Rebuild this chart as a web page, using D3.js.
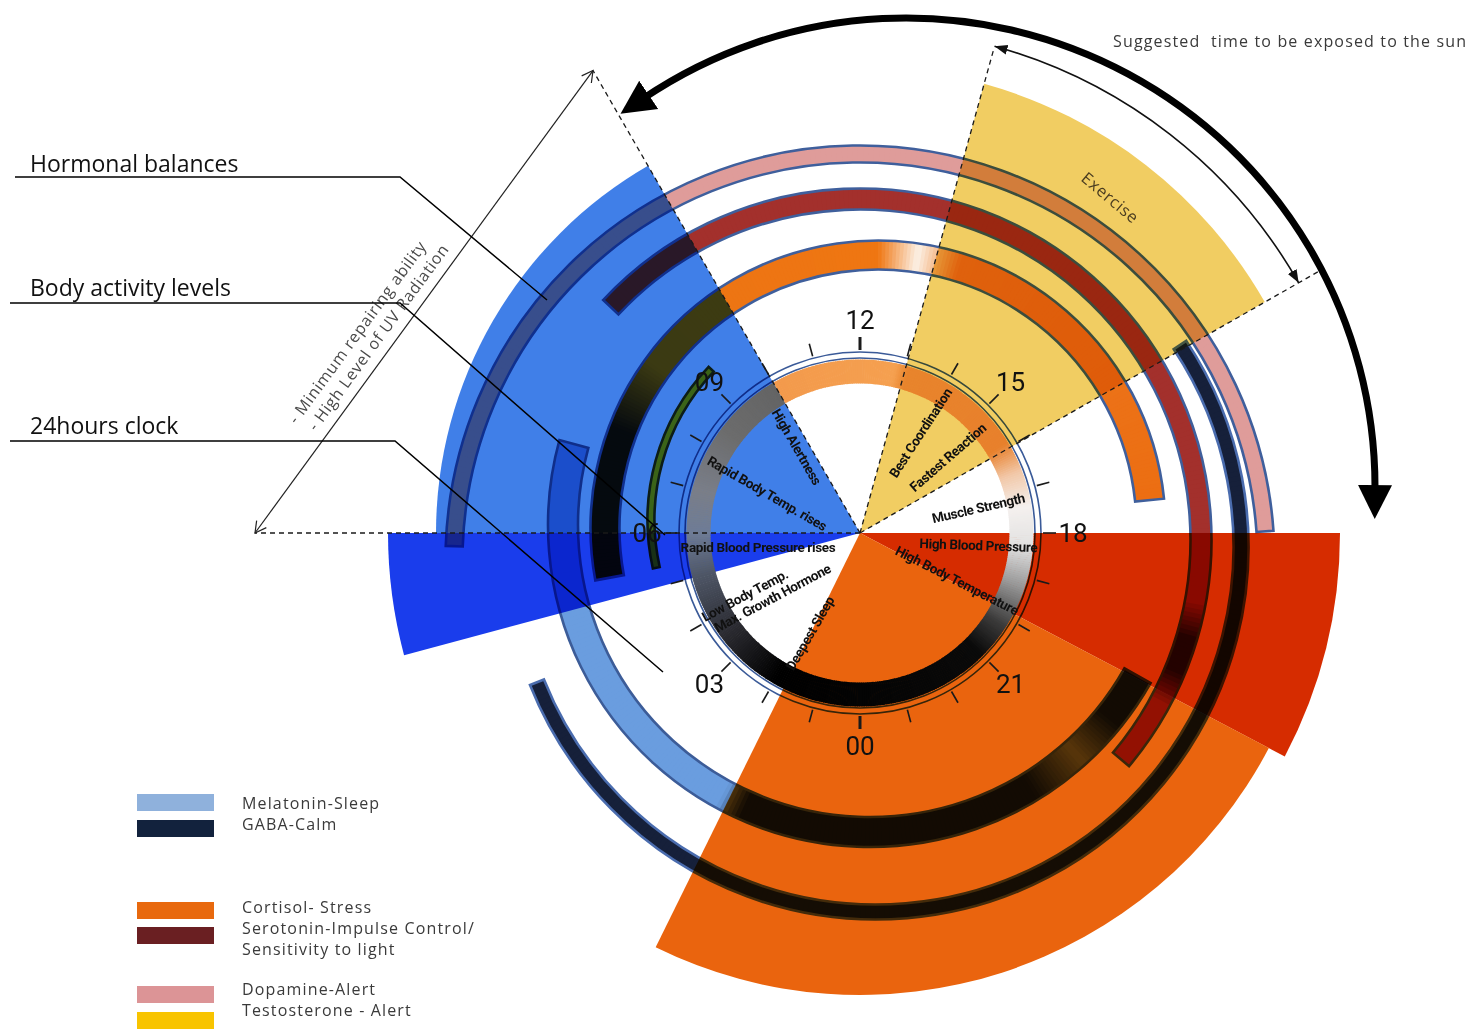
<!DOCTYPE html>
<html>
<head>
<meta charset="utf-8">
<script src="https://cdn.jsdelivr.net/npm/d3@7"></script>
<style>
  html, body { margin: 0; padding: 0; background: #fff; }
  svg { display: block; }
  .side-label { font-family: "Open Sans", sans-serif; font-size: 23px; fill: #111; }
  .clock-label { font-family: Roboto, "Open Sans", sans-serif; font-size: 26px; fill: #111; }
  .act-label { font-family: Roboto, sans-serif; font-weight: 700; font-size: 13.5px; letter-spacing: -0.35px; fill: #111; }
  .thin-text { font-family: "Open Sans", sans-serif; font-size: 16px; letter-spacing: 0.75px; fill: #3a3a3a; white-space: pre; }
  .wide { letter-spacing: 1.15px; }
</style>
</head>
<body>
<svg id="chart"></svg>
<script>
// ---- data ----
// clock dial (24h, 12 at the top, clockwise)
const clockHours = d3.range(0, 24);
const clockLabels = ["12", "15", "18", "21", "00", "03", "06", "09"];
const clockLabelHours = [12, 15, 18, 21, 0, 3, 6, 9];

// body activity sectors (start -> end hour, clockwise)
const activityNames = ["morning", "dawn", "afternoon", "evening", "night"];
const activityStart = [6, 5, 13.03, 18, 19.85];
const activityEnd = [10, 6, 16.02, 19.85, 1.75];

// hormonal balances arcs (start -> end hour, clockwise)
const hormoneNames = ["Dopamine", "Serotonin", "Cortisol", "GABA", "Melatonin", "Testosterone"];
const hormoneStart = [6.13, 8.87, 5.3, 15.76, 19.96, 5.16];
const hormoneEnd = [17.73, 20.67, 17.61, 4.55, 7.02, 8.9];

// activity level labels and the hour they sit at
const activityLabels = ["High Alertness", "Rapid Body Temp. rises", "Rapid Blood Pressure rises",
  "Low Body Temp.", "Max. Growth Hormone", "Deepest Sleep", "Best Coordination",
  "Fastest Reaction", "Muscle Strength", "High Blood Pressure", "High Body Temperature"];
const activityLabelHours = [9.59, 7.55, 5.48, 4.11, 3.57, 1.77, 14.07, 15.28, 17.2, 18.39, 19.73];

// legend
const legendNames = ["Melatonin", "GABA", "Cortisol", "Serotonin", "Dopamine", "Testosterone"];
const legendLines = ["Melatonin-Sleep", "GABA-Calm", "Cortisol- Stress", "Serotonin-Impulse Control/",
  "Sensitivity to light", "Dopamine-Alert", "Testosterone - Alert"];

// ---- layout & style ----
const W = 1473, H = 1034;
const C = [860, 533];
const TAU = Math.PI * 2;

const wedgeRadius = [424, 472, 466, 480, 462];
const wedgeColor = ["#407fe8", "#1a3dec", "#f1cd62", "#d62c00", "#ea640e"];

// ring centres are a little off the dial centre in the original drawing
const ringLayout = {
  Dopamine:     { cx: 860, cy: 560, r: 406, w: 17, stroke: "#3f5f9c" },
  Serotonin:    { cx: 860, cy: 540, r: 341, w: 21, stroke: "#3f5f9c" },
  Cortisol:     { cx: 878, cy: 528, r: 273, w: 29, stroke: "#3f5f9c" },
  GABA:         { cx: 876, cy: 547, r: 365, w: 15, stroke: "#4a6cae" },
  Melatonin:    { cx: 870, cy: 525, r: 307, w: 30, stroke: "#3c5c98" },
  Testosterone: { cx: 870, cy: 520, r: 219, w: 7,  stroke: "#2f3a1a" }
};
// colour along each arc: [hour (unwrapped from the start), colour]
const ringStops = {
  Dopamine:  [[6.13, "#df9c9a"], [17.73, "#df9c9a"]],
  Serotonin: [[8.87, "#a3302c"], [18.7, "#a3302c"], [19.1, "#2a0a08"], [19.5, "#2a0a08"], [19.9, "#a02a24"], [20.67, "#a02a24"]],
  Cortisol:  [[5.3, "#141410"], [7.4, "#141410"], [8.4, "#ec7414"], [12.0, "#ef7612"], [12.55, "#fcf1e6"], [13.15, "#ec7820"], [17.61, "#ec6e12"]],
  GABA:      [[15.76, "#16203a"], [28.55, "#16203a"]],
  Melatonin: [[19.96, "#141c30"], [20.6, "#141c30"], [21.2, "#6088b0"], [21.9, "#141c30"], [25.6, "#141c30"], [25.9, "#6a9ddf"], [31.02, "#6a9ddf"]],
  Testosterone: [[5.16, "#e9c81a"], [8.9, "#e9c81a"]]
};
const clockStops = [[10, "#f39a4c"], [12.8, "#f5a050"], [13.1, "#e8842c"], [15.9, "#e8802c"], [16.6, "#f2c8a8"],
  [17.4, "#f4f0ee"], [18.3, "#e2e2e2"], [19.2, "#9a9a9a"], [20.2, "#3a3a3a"], [21, "#0a0a0a"], [26, "#000000"],
  [27.5, "#2a2a30"], [29, "#4e5666"], [30, "#6e7c96"], [31, "#7a7e88"], [32.5, "#6c6c6c"], [34, "#646464"]];

const labelRadius = [107, 101, 103, 131, 109, 112, 117, 116, 121, 119, 108];
const labelRotate = [60, 30, 0, -28, -28, -60, -57, -41, -13, 2, 27];

const legendColor = ["#8fb1dc", "#12223d", "#e8690e", "#6a1f22", "#dc9496", "#f8c400"];
const legendY = [794, 820, 902, 927, 986, 1012];
const legendTextY = [809, 830, 913, 934, 955, 995, 1016];

// ---- scales / helpers ----
const hourScale = d3.scaleLinear().domain([0, 24]).range([0, TAU]);
const angleOf = h => hourScale(((h - 12) % 24 + 24) % 24);
const span = (s, e) => {
  const a0 = angleOf(s);
  let a1 = angleOf(e);
  if (a1 <= a0) a1 += TAU;
  return [a0, a1];
};
const polar = (cx, cy, r, a) => [cx + r * Math.sin(a), cy - r * Math.cos(a)];
const deg = a => a * 180 / Math.PI;

const svg = d3.select("#chart").attr("width", W).attr("height", H).attr("viewBox", `0 0 ${W} ${H}`);
svg.append("rect").attr("width", W).attr("height", H).attr("fill", "#fff");

const defs = svg.append("defs");
defs.append("marker").attr("id", "bigHead")
  .attr("markerUnits", "userSpaceOnUse").attr("viewBox", "0 0 40 40")
  .attr("markerWidth", 40).attr("markerHeight", 40)
  .attr("refX", 6).attr("refY", 20).attr("orient", "auto-start-reverse")
  .append("path").attr("d", "M0,3 L34,20 L0,37 Z").attr("fill", "#000");
defs.append("marker").attr("id", "smallHead")
  .attr("markerUnits", "userSpaceOnUse").attr("viewBox", "0 0 14 14")
  .attr("markerWidth", 14).attr("markerHeight", 14)
  .attr("refX", 13).attr("refY", 7).attr("orient", "auto-start-reverse")
  .append("path").attr("d", "M0,2 L13,7 L0,12 Z").attr("fill", "#111");
defs.append("marker").attr("id", "openHead")
  .attr("markerUnits", "userSpaceOnUse").attr("viewBox", "0 0 14 14")
  .attr("markerWidth", 14).attr("markerHeight", 14)
  .attr("refX", 12).attr("refY", 7).attr("orient", "auto-start-reverse")
  .append("path").attr("d", "M1,1 L12,7 L1,13").attr("fill", "none")
  .attr("stroke", "#222").attr("stroke-width", 1.2);

// body activity sectors
const wedges = svg.append("g").attr("transform", `translate(${C[0]},${C[1]})`);
wedges.selectAll("path").data(activityNames).join("path")
  .attr("d", (d, i) => {
    const [a0, a1] = span(activityStart[i], activityEnd[i]);
    return d3.arc()({ innerRadius: 0, outerRadius: wedgeRadius[i], startAngle: a0, endAngle: a1 });
  })
  .attr("fill", (d, i) => wedgeColor[i]);

// arc with colour running along it
function drawRing(g, start, end, L, stops, strokeW) {
  const [a0, a1] = span(start, end);
  const base = d3.arc().innerRadius(L.r - L.w / 2).outerRadius(L.r + L.w / 2);
  const color = d3.scaleLinear().domain(stops.map(s => s[0])).range(stops.map(s => s[1])).clamp(true);
  const step = 0.05;
  const hEnd = start + (a1 - a0) / TAU * 24;
  const rg = g.append("g").attr("transform", `translate(${L.cx},${L.cy})`);
  rg.selectAll("path.seg").data(d3.range(start, hEnd, step)).join("path")
    .attr("class", "seg")
    .attr("d", h => base({
      startAngle: a0 + hourScale(h - start),
      endAngle: Math.min(a1, a0 + hourScale(h - start + step) + 0.004)
    }))
    .attr("fill", h => color(h + step / 2));
  if (L.stroke) {
    rg.append("path").attr("d", base({ startAngle: a0, endAngle: a1 }))
      .attr("fill", "none").attr("stroke", L.stroke).attr("stroke-width", strokeW);
  }
}

// hormone rings multiply over the sectors
const rings = svg.append("g").style("mix-blend-mode", "multiply");
hormoneNames.forEach((name, i) => {
  drawRing(rings, hormoneStart[i], hormoneEnd[i], ringLayout[name], ringStops[name], 2.6);
});
rings.selectAll("circle.outline").data([175, 181]).join("circle")
  .attr("class", "outline").attr("cx", C[0]).attr("cy", C[1]).attr("r", d => d)
  .attr("fill", "none").attr("stroke", "#3a5a98").attr("stroke-width", 1.6);

// 24 hour clock band
drawRing(svg, 10, 10, { cx: C[0], cy: C[1], r: 161.5, w: 24 }, clockStops, 0);

// dashed sector lines
const dashLen = [605, 534, 500, 528];
const dashHours = [activityStart[0], activityEnd[0], activityStart[2], activityEnd[2]];
svg.append("g").selectAll("line").data(dashHours).join("line")
  .attr("x1", C[0]).attr("y1", C[1])
  .attr("x2", (h, i) => polar(C[0], C[1], dashLen[i], angleOf(h))[0])
  .attr("y2", (h, i) => polar(C[0], C[1], dashLen[i], angleOf(h))[1])
  .attr("stroke", "#1a1a1a").attr("stroke-width", 1.3).attr("stroke-dasharray", "5,4");

// ticks
const ticks = svg.append("g");
ticks.selectAll("line").data(clockHours).join("line")
  .attr("x1", h => polar(C[0], C[1], 183, angleOf(h))[0])
  .attr("y1", h => polar(C[0], C[1], 183, angleOf(h))[1])
  .attr("x2", h => polar(C[0], C[1], 196, angleOf(h))[0])
  .attr("y2", h => polar(C[0], C[1], 196, angleOf(h))[1])
  .attr("stroke", "#1a1a1a")
  .attr("stroke-width", h => (h === 12 || h === 0) ? 3 : 1.6);
ticks.selectAll("text").data(clockLabels).join("text")
  .attr("class", "clock-label")
  .attr("x", (d, i) => polar(C[0], C[1], 213, angleOf(clockLabelHours[i]))[0])
  .attr("y", (d, i) => polar(C[0], C[1], 213, angleOf(clockLabelHours[i]))[1])
  .attr("text-anchor", "middle").attr("dominant-baseline", "central")
  .text(d => d);

// activity level labels
svg.append("g").selectAll("text").data(activityLabels).join("text")
  .attr("class", "act-label")
  .attr("text-anchor", "middle").attr("dominant-baseline", "central")
  .attr("transform", (d, i) => {
    const [x, y] = polar(C[0], C[1], labelRadius[i], angleOf(activityLabelHours[i]));
    return `translate(${x},${y}) rotate(${labelRotate[i]})`;
  })
  .text(d => d);

// exercise label
{
  const [x, y] = polar(C[0], C[1], 419, angleOf(14.45));
  svg.append("text").attr("class", "thin-text")
    .attr("transform", `translate(${x},${y}) rotate(40)`)
    .attr("text-anchor", "middle").attr("dominant-baseline", "central")
    .style("font-size", "16.5px").style("fill", "#4a3c20")
    .text("Exercise");
}

// exercise window double arrow
{
  const a0 = angleOf(activityStart[2]) - Math.PI / 2;
  const a1 = angleOf(activityEnd[2]) - Math.PI / 2;
  const p = d3.path();
  p.arc(C[0], C[1], 505, a0, a1);
  svg.append("path").attr("d", p.toString())
    .attr("fill", "none").attr("stroke", "#111").attr("stroke-width", 1.6)
    .attr("marker-start", "url(#smallHead)").attr("marker-end", "url(#smallHead)");
}

// sun exposure thick arrow
{
  const p = d3.path();
  p.arc(906, 487, 469, (-34 - 90) * Math.PI / 180, (90.5 - 90) * Math.PI / 180);
  svg.append("path").attr("d", p.toString())
    .attr("fill", "none").attr("stroke", "#000").attr("stroke-width", 7)
    .attr("marker-start", "url(#bigHead)").attr("marker-end", "url(#bigHead)");
  svg.append("text").attr("class", "thin-text wide")
    .attr("x", 1113).attr("y", 47)
    .text("Suggested  time to be exposed to the sun");
}

// UV radiation double arrow
{
  const A = polar(C[0], C[1], dashLen[0], angleOf(dashHours[0]));
  const B = polar(C[0], C[1], dashLen[1], angleOf(dashHours[1]));
  svg.append("line").attr("x1", A[0]).attr("y1", A[1]).attr("x2", B[0]).attr("y2", B[1])
    .attr("stroke", "#222").attr("stroke-width", 1.2)
    .attr("marker-start", "url(#openHead)").attr("marker-end", "url(#openHead)");
  const rot = deg(Math.atan2(B[1] - A[1], B[0] - A[0]));
  const uvLines = ["- Minimum repairing ability", "- High Level of UV Radiation"];
  const uvPos = [[357, 332], [378, 337]];
  svg.append("g").selectAll("text").data(uvLines).join("text")
    .attr("class", "thin-text").style("fill", "#4a4a4a")
    .attr("text-anchor", "middle").attr("dominant-baseline", "central")
    .attr("transform", (d, i) => `translate(${uvPos[i][0]},${uvPos[i][1]}) rotate(${rot})`)
    .text(d => d);
}

// side labels with leader lines
const sideLabels = ["Hormonal balances", "Body activity levels", "24hours clock"];
const sideLabelY = [172, 296, 434];
const leaders = [
  [[15, 177], [400, 177], [547, 300]],
  [[10, 303], [400, 303], [665, 535]],
  [[10, 441], [395, 441], [663, 672]]
];
svg.append("g").selectAll("path").data(leaders).join("path")
  .attr("d", d => d3.line()(d))
  .attr("fill", "none").attr("stroke", "#000").attr("stroke-width", 1.5);
svg.append("g").selectAll("text").data(sideLabels).join("text")
  .attr("class", "side-label")
  .attr("x", 30).attr("y", (d, i) => sideLabelY[i])
  .text(d => d);

// legend
const legend = svg.append("g");
legend.selectAll("rect").data(legendNames).join("rect")
  .attr("x", 137).attr("y", (d, i) => legendY[i])
  .attr("width", 77).attr("height", 17)
  .attr("fill", (d, i) => legendColor[i]);
legend.selectAll("text").data(legendLines).join("text")
  .attr("class", "thin-text wide")
  .attr("x", 242).attr("y", (d, i) => legendTextY[i])
  .text(d => d);
</script>
</body>
</html>
